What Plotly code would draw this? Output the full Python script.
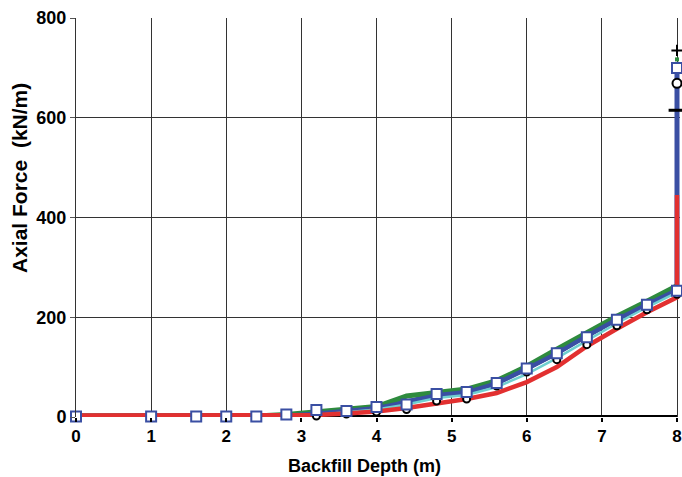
import plotly.graph_objects as go

depth = [0, 1, 1.6, 2, 2.4, 2.8, 3.2, 3.6, 4, 4.4, 4.8, 5.2, 5.6, 6, 6.4, 6.8, 7.2, 7.6, 8]
green = [2, 2, 2, 2, 2, 5, 10, 15, 21, 42, 48, 56, 73, 102, 136, 170, 202, 232, 263]
blue = [2, 2, 2, 2, 2, 3, 7, 12, 18, 30, 44, 50, 68, 97, 128, 163, 196, 226, 255]
cyan = [2, 2, 2, 2, 2, 2, 4, 10, 15, 25, 38, 44, 60, 86, 118, 153, 188, 220, 250]
red = [3, 3, 3, 3, 3, 3, 4, 7, 11, 18, 27, 36, 48, 70, 100, 142, 177, 210, 240]
black = [0] * len(depth)
square_vals = [1, 1, 1, 1, 1, 5, 14, 12, 20, 25, 46, 50, 68, 97, 128, 160, 195, 225, 253]
black_mark_vals = [None, None, None, None, None, None, 2, 6, 10, 15, 32, 36, 62, 90, 115, 145, 183, 215, 246]

end_x = 8
red_top = 445
blue_top = 700
end_markers = {"plus": 735, "green_dot": 717, "square": 700, "circle": 669, "dash": 615}

x_title = "Backfill Depth (m)"
y_title = "Axial Force\u00a0\u00a0(kN/m)"

fig = go.Figure()

def add(tr):
    tr.update(cliponaxis=False, hoverinfo="skip")
    fig.add_trace(tr)

add(go.Scatter(x=depth, y=black, mode="lines", line=dict(color="black", width=4)))
add(go.Scatter(x=depth + [end_x], y=blue + [blue_top], mode="lines", line=dict(color="#3a4fa3", width=5)))
add(go.Scatter(x=depth, y=green, mode="lines", line=dict(color="#2e8b3e", width=5)))
add(go.Scatter(x=depth, y=blue, mode="lines", line=dict(color="#3a4fa3", width=4)))
add(go.Scatter(x=depth, y=cyan, mode="lines", line=dict(color="#6fcfcf", width=2.5)))
add(go.Scatter(x=depth + [end_x], y=red + [red_top], mode="lines", line=dict(color="#e23030", width=4.5)))

add(go.Scatter(x=depth, y=black_mark_vals, mode="markers",
               marker=dict(symbol="circle", size=7, color="white", line=dict(color="black", width=2))))
add(go.Scatter(x=depth, y=square_vals, mode="markers",
               marker=dict(symbol="square", size=10, color="white", line=dict(color="#3a4fa3", width=2))))

add(go.Scatter(x=[end_x], y=[end_markers["dash"]], mode="markers",
               marker=dict(symbol="line-ew", size=12, line=dict(color="black", width=3))))
add(go.Scatter(x=[end_x], y=[end_markers["circle"]], mode="markers",
               marker=dict(symbol="circle", size=9, color="white", line=dict(color="black", width=2))))
add(go.Scatter(x=[end_x], y=[end_markers["square"]], mode="markers",
               marker=dict(symbol="square", size=10, color="white", line=dict(color="#3a4fa3", width=2))))
add(go.Scatter(x=[end_x], y=[end_markers["green_dot"]], mode="markers",
               marker=dict(symbol="square", size=4, color="#2e8b3e")))
add(go.Scatter(x=[end_x], y=[end_markers["plus"]], mode="markers",
               marker=dict(symbol="cross-thin", size=8, line=dict(color="black", width=2))))

fig.add_annotation(text="<b>" + x_title + "</b>", xref="paper", yref="paper",
                   x=(364 - 76) / 604, y=-(466 - 417) / 399, xanchor="center", yanchor="middle",
                   showarrow=False, font=dict(family="Arial, Liberation Sans", size=18, color="black"))
fig.add_annotation(text="<b>" + y_title + "</b>", xref="paper", yref="paper",
                   x=-(76 - 19) / 604, y=(417 - 178) / 399, xanchor="center", yanchor="middle",
                   textangle=-90, showarrow=False,
                   font=dict(family="Arial, Liberation Sans", size=21, color="black"))

fig.update_layout(
    width=682, height=477,
    margin=dict(l=76, r=2, t=18, b=60, autoexpand=False),
    paper_bgcolor="white", plot_bgcolor="white",
    showlegend=False,
    font=dict(family="Arial, Liberation Sans", color="black"),
    xaxis=dict(
        range=[0, 8 + 3 / 75.1], dtick=1, tick0=0, automargin=False,
        showgrid=True, gridcolor="#333333", gridwidth=1,
        zeroline=False, showline=False,
        ticks="outside", ticklen=4, tickwidth=2, tickcolor="black",
        tickfont=dict(family="Arial, Liberation Sans", size=17, color="black"),
        tickprefix="<b>", ticksuffix="</b>",
    ),
    yaxis=dict(
        range=[0, 800], dtick=200, tick0=0, automargin=False,
        showgrid=True, gridcolor="#333333", gridwidth=1,
        zeroline=False, showline=True, linecolor="#333333", linewidth=1,
        ticks="outside", ticklen=5, tickwidth=1, tickcolor="#555555",
        tickfont=dict(family="Arial, Liberation Sans", size=18, color="black"),
        tickprefix="<b>", ticksuffix="</b>",
    ),
)

fig.write_html("out.html", config={"displayModeBar": False},
               post_script="document.body.style.margin='0';document.body.style.overflow='hidden';")
